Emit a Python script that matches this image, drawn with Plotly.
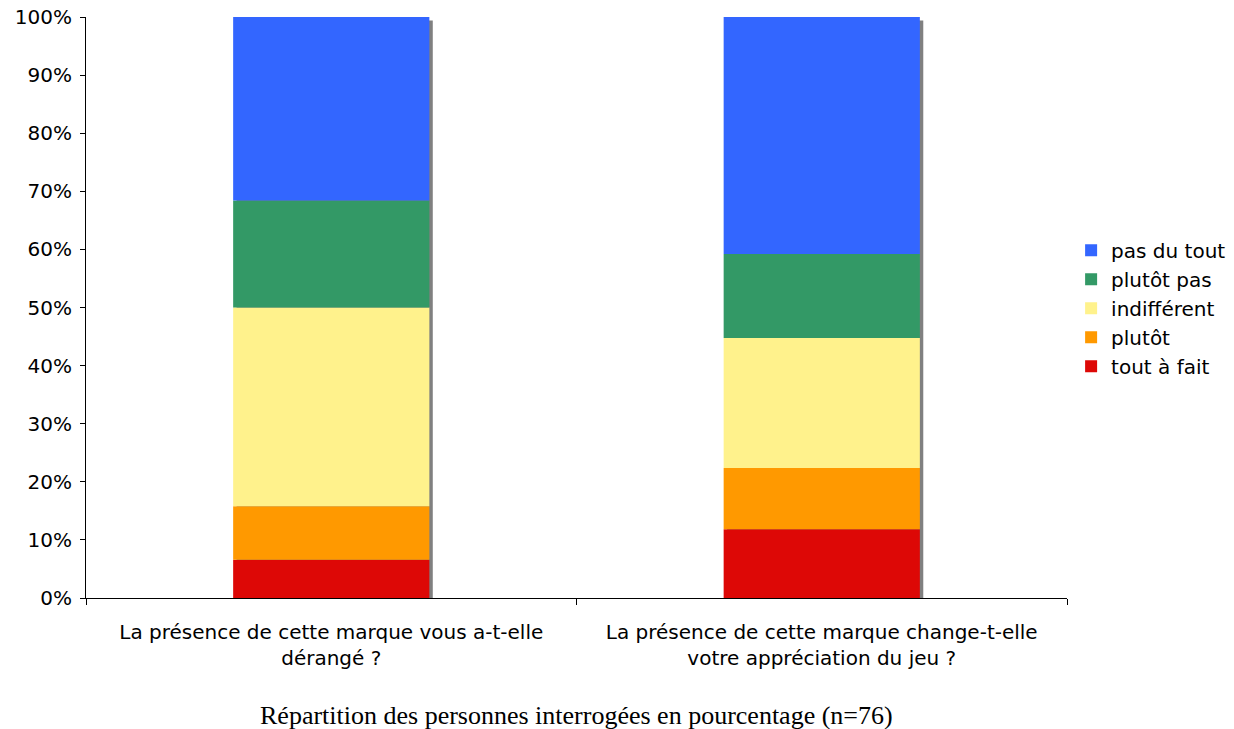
import plotly.graph_objects as go

# Survey answers (n=76), share of respondents per answer in %
questions = [
    "La présence de cette marque vous a-t-elle<br>dérangé ?",
    "La présence de cette marque change-t-elle<br>votre appréciation du jeu ?",
]
tout_a_fait = [6.58, 11.84]
plutot = [9.21, 10.53]
indifferent = [34.21, 22.37]
plutot_pas = [18.42, 14.47]
pas_du_tout = [31.58, 40.79]

series = [
    ("tout à fait", tout_a_fait, "#DD0806"),
    ("plutôt", plutot, "#FF9900"),
    ("indifférent", indifferent, "#FFF28C"),
    ("plutôt pas", plutot_pas, "#339966"),
    ("pas du tout", pas_du_tout, "#3366FF"),
]

bar_width = 0.4
fig = go.Figure()

# drop shadow behind each stacked column
totals = [sum(v) for v in zip(*[s[1] for s in series])]
fig.add_trace(go.Bar(
    x=questions, y=[t - 0.6 for t in totals], width=bar_width,
    offset=-bar_width / 2 + 0.007, marker=dict(color="#808080", line_width=0),
    showlegend=False, hoverinfo="skip",
))

# stacked colored segments
base = [0.0, 0.0]
for name, vals, color in series:
    fig.add_trace(go.Bar(
        x=questions, y=vals, base=list(base), name=name, width=bar_width,
        offset=-bar_width / 2,
        marker=dict(color=color, line_width=0),
    ))
    base = [b + v for b, v in zip(base, vals)]

fig.update_layout(
    barmode="overlay",
    width=1234, height=729,
    margin=dict(l=86, r=167, t=17, b=131, autoexpand=False),
    plot_bgcolor="white", paper_bgcolor="white",
    font=dict(family="DejaVu Sans", size=20, color="#000000"),
    legend=dict(
        traceorder="reversed", xref="container", yref="container",
        x=0.868, y=0.577, xanchor="left", yanchor="middle",
        font=dict(size=20), itemwidth=30, tracegroupgap=0,
    ),
    showlegend=True,
    annotations=[dict(
        text="Répartition des personnes interrogées en pourcentage (n=76)",
        xref="paper", yref="paper", x=0.5, y=-0.203,
        xanchor="center", yanchor="middle", showarrow=False,
        font=dict(family="Liberation Serif", size=26, color="#000000"),
    )],
)

fig.update_yaxes(
    range=[0, 100], tickvals=list(range(0, 101, 10)),
    ticktext=[f"{v}%" for v in range(0, 101, 10)],
    showgrid=False, showline=True, linecolor="black", linewidth=1,
    ticks="outside", ticklen=5, tickcolor="black", zeroline=False,
    ticklabelstandoff=4, automargin=False,
)
fig.update_xaxes(
    showgrid=False, showline=True, linecolor="black", linewidth=1,
    ticks="outside", ticklen=6, tickcolor="black", tickson="boundaries",
    ticklabelstandoff=16, automargin=False,
)

fig.write_html("out.html")
